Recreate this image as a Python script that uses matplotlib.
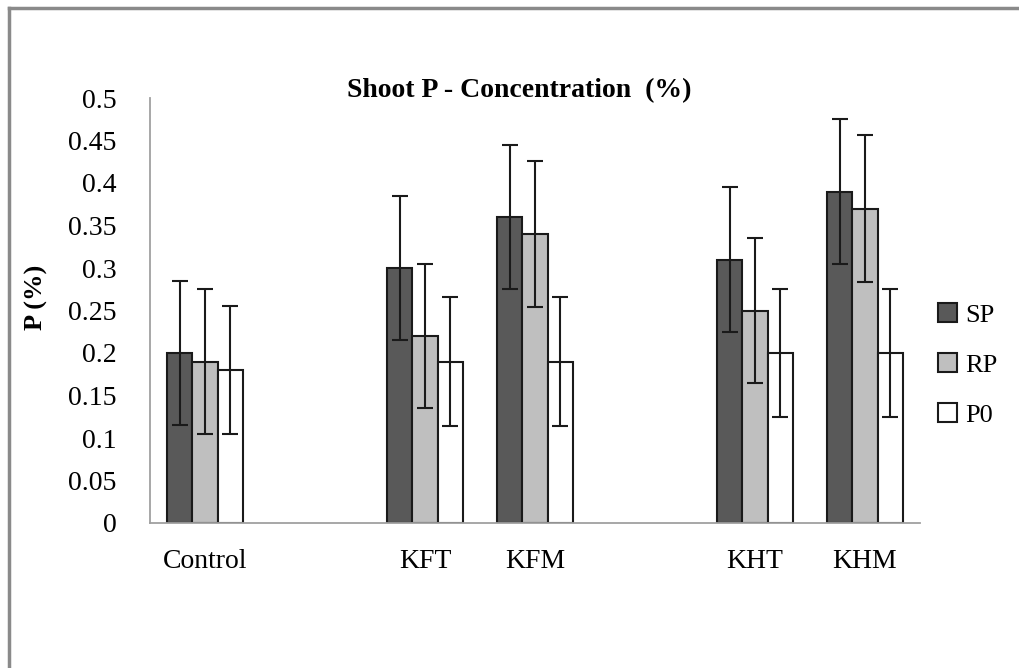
import numpy as np
import matplotlib.pyplot as plt
from matplotlib.lines import Line2D

plt.rcParams['font.family'] = ['Liberation Serif', 'DejaVu Serif']

# categories (empty slots are gaps between groups)
categories = ['Control', '', 'KFT', 'KFM', '', 'KHT', 'KHM']
series = ['SP', 'RP', 'P0']
sp = [0.20, np.nan, 0.30, 0.36, np.nan, 0.31, 0.39]
rp = [0.19, np.nan, 0.22, 0.34, np.nan, 0.25, 0.37]
p0 = [0.18, np.nan, 0.19, 0.19, np.nan, 0.20, 0.20]
sp_err = [0.085, np.nan, 0.085, 0.085, np.nan, 0.085, 0.085]
rp_err = [0.085, np.nan, 0.085, 0.086, np.nan, 0.085, 0.086]
p0_err = [0.075, np.nan, 0.076, 0.076, np.nan, 0.075, 0.075]
yticks = [0, 0.05, 0.1, 0.15, 0.2, 0.25, 0.3, 0.35, 0.4, 0.45, 0.5]

colors = ['#595959', '#bfbfbf', '#ffffff']

fig = plt.figure(figsize=(10.19, 6.68), dpi=100)
ax = fig.add_axes([150/1019, (668-523)/668, (920-150)/1019, (523-98)/668])

x = np.arange(len(categories))
w = 0.228
for i, (vals, errs) in enumerate(zip([sp, rp, p0], [sp_err, rp_err, p0_err])):
    ax.bar(x + (i - 1) * w, vals, w, color=colors[i], edgecolor='#1a1a1a',
           linewidth=1.5, label=series[i],
           yerr=errs, error_kw=dict(ecolor='#1a1a1a', elinewidth=1.5,
                                    capsize=6, capthick=1.5))

ax.set_xlim(-0.5, len(categories) - 0.5)
ax.set_ylim(0, 0.5)
ax.set_yticks(yticks)
ax.set_yticklabels([f'{t:g}' for t in yticks])
ax.set_xticks(x)
ax.set_xticklabels(categories)
ax.tick_params(axis='both', length=0, labelsize=20)
ax.tick_params(axis='y', pad=24)
ax.tick_params(axis='x', pad=19)
for s in ['top', 'right']:
    ax.spines[s].set_visible(False)
for s in ['left', 'bottom']:
    ax.spines[s].set_color('#a0a0a0')
    ax.spines[s].set_linewidth(1.3)

ax.set_title('Shoot P - Concentration  (%)', fontsize=20, fontweight='bold',
             pad=0, x=0.48, y=1.002)
ax.set_ylabel('P (%)', fontsize=19, fontweight='bold')
ax.yaxis.set_label_coords(-0.133, 0.53)

ax.legend(loc='center left', bbox_to_anchor=(938/1019, 1 - 365/668),
          bbox_transform=fig.transFigure, frameon=False, borderaxespad=0,
          borderpad=0, fontsize=19, handlelength=0.72, handleheight=0.72,
          handletextpad=0.3, labelspacing=1.0)

# chart area border (left and top edges)
fig.add_artist(Line2D([9/1019, 9/1019], [0, 1 - 8/668], transform=fig.transFigure,
                      color='#8a8a8a', linewidth=2.5))
fig.add_artist(Line2D([9/1019, 1], [1 - 8/668, 1 - 8/668], transform=fig.transFigure,
                      color='#8a8a8a', linewidth=2.5))

fig.savefig('out.png', dpi=100)
